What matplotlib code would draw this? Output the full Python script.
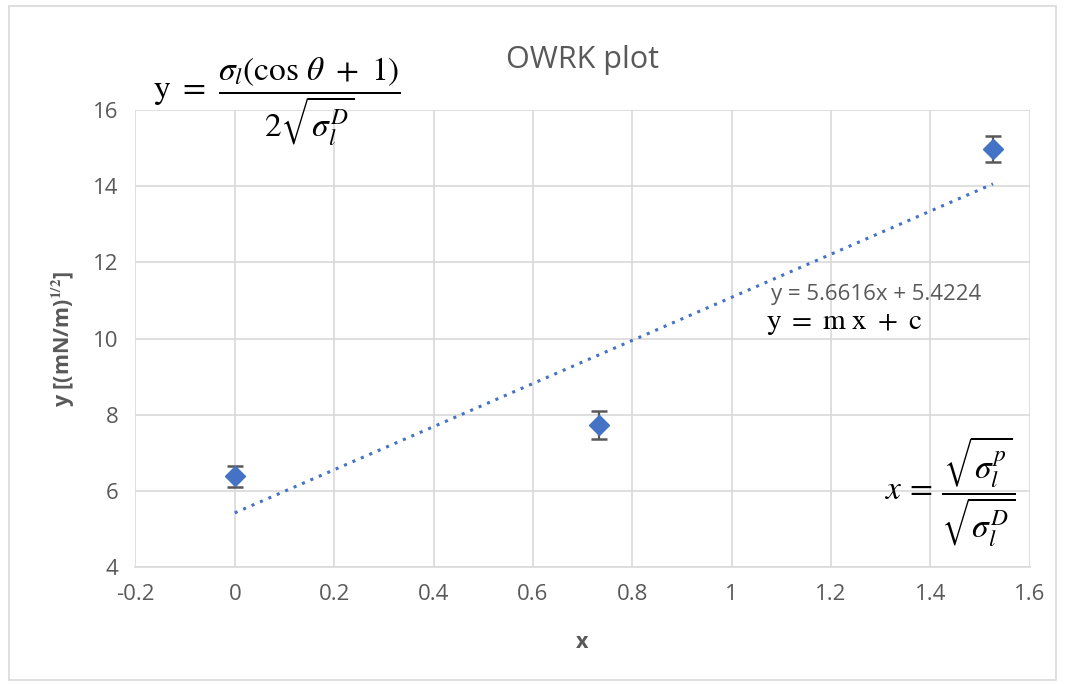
import matplotlib
matplotlib.use('Agg')
import matplotlib.pyplot as plt
import numpy as np

# data
x_vals = [0.0, 0.734, 1.526]
y_vals = [6.38, 7.73, 14.98]
y_err = [0.27, 0.38, 0.33]
slope, intercept = 5.6616, 5.4224

x_ticks = [-0.2, 0, 0.2, 0.4, 0.6, 0.8, 1, 1.2, 1.4, 1.6]
x_ticklabels = ['-0.2', '0', '0.2', '0.4', '0.6', '0.8', '1', '1.2', '1.4', '1.6']
y_ticks = [4, 6, 8, 10, 12, 14, 16]

plt.rcParams['font.family'] = ['Open Sans', 'DejaVu Sans']
plt.rcParams['mathtext.fontset'] = 'stix'

grey = '#595959'
grid_c = '#D9D9D9'
blue = '#4472C4'

fig = plt.figure(figsize=(10.66, 6.84), dpi=100)
ax = fig.add_axes([0.127, 0.171, 0.839, 0.668])

# trendline
xl = np.array([min(x_vals), max(x_vals)])
ax.plot(xl, slope * xl + intercept, linestyle=(0, (1, 2)), color=blue, linewidth=2.2, zorder=2)

ax.errorbar(x_vals, y_vals, yerr=y_err, fmt='D', color=blue, markersize=10,
            ecolor=grey, elinewidth=1.6, capsize=6, capthick=1.8, zorder=3)

ax.set_xlim(-0.2, 1.6)
ax.set_ylim(4, 16)
ax.set_xticks(x_ticks)
ax.set_xticklabels(x_ticklabels)
ax.set_yticks(y_ticks)
ax.grid(True, color=grid_c, linewidth=1.2, zorder=0)
ax.set_axisbelow(True)
for s in ax.spines.values():
    s.set_visible(False)
ax.spines['bottom'].set_visible(True)
ax.spines['bottom'].set_color(grid_c)
ax.spines['bottom'].set_linewidth(1.2)
ax.tick_params(length=0, labelsize=16, labelcolor=grey, pad=12)

ax.set_title('OWRK plot', fontsize=22, color=grey, pad=30)
ax.set_xlabel('x', fontsize=15.5, fontweight='bold', color=grey, labelpad=20)
ax.set_ylabel(r'y [(mN/m)$^{\mathbf{1/2}}$]', fontsize=15.5, fontweight='bold', color=grey, labelpad=12)

# annotations
ax.text(-0.165, 16.2, r'$\mathrm{y}\ =\ \dfrac{\sigma_l(\cos\,\theta\ +\ 1)}{2\sqrt{\sigma_l^D}}$',
        fontsize=24, color='black', ha='left', va='center')
ax.text(1.57, 5.97, r'$x\,=\,\dfrac{\sqrt{\sigma_l^p}}{\sqrt{\sigma_l^D}}$',
        fontsize=24, color='black', ha='right', va='center')
ax.text(1.08, 11.15, 'y = 5.6616x + 5.4224', fontsize=16, color=grey, ha='left', va='center')
ax.text(1.07, 10.42, r'$\mathrm{y}\ =\ \mathrm{m\;x}\ +\ \mathrm{c}$', fontsize=21, color='black',
        ha='left', va='center')

# chart border
fig.patches.append(plt.Rectangle((0.008, 0.006), 0.983, 0.985, transform=fig.transFigure,
                                 fill=False, edgecolor=grid_c, linewidth=1.2))

fig.savefig('out.png', dpi=100)
